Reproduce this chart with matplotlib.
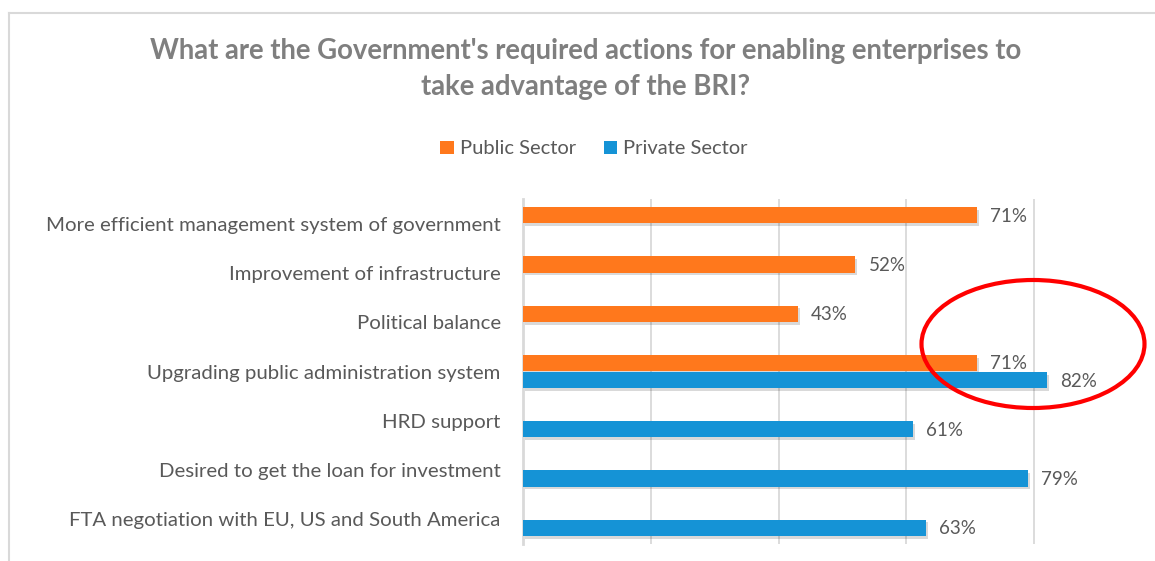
import matplotlib
matplotlib.use("Agg")
import matplotlib.pyplot as plt
import numpy as np
from matplotlib.patches import Ellipse, Patch
from matplotlib.lines import Line2D
import matplotlib.patheffects as pe

categories = [
    "More efficient management system of government",
    "Improvement of infrastructure",
    "Political balance",
    "Upgrading public administration system",
    "HRD support",
    "Desired to get the loan for investment",
    "FTA negotiation with EU, US and South America",
]
public_sector = [0.71, 0.52, 0.43, 0.71, None, None, None]
private_sector = [None, None, None, 0.82, 0.61, 0.79, 0.63]
series_names = ["Public Sector", "Private Sector"]
title = "What are the Government's required actions for enabling enterprises to\ntake advantage of the BRI?"

ORANGE = "#FF781C"
BLUE = "#1593D6"
GRID = "#D9D9D9"
TXT = "#595959"
FONT = "Lato"

W, H = 1155, 561
fig = plt.figure(figsize=(W / 100, H / 100), dpi=100)
fig.patch.set_facecolor("white")

ax = fig.add_axes([523 / W, 17.4 / H, 639 / W, 344.2 / H])
ax.set_xlim(0, 1.0)
ax.set_ylim(len(categories) - 0.5, -0.5)

y = np.arange(len(categories))
bh = 0.33
off = 0.175
shadow = [pe.SimplePatchShadow(offset=(1.5, -2), shadow_rgbFace="#000000", alpha=0.15), pe.Normal()]

for series, color, o in [(public_sector, ORANGE, -off), (private_sector, BLUE, off)]:
    idx = [i for i, v in enumerate(series) if v is not None]
    vals = [series[i] for i in idx]
    bars = ax.barh(y[idx] + o, vals, height=bh, color=color, zorder=3)
    for b in bars:
        b.set_path_effects(shadow)
    for i, v in zip(idx, vals):
        ax.text(v + 0.021, y[i] + o + 0.02, f"{round(v * 100)}%", va="center", ha="left",
                fontsize=13.5, color=TXT, family=FONT, zorder=4)

ax.set_xticks([0, 0.2, 0.4, 0.6, 0.8, 1.0])
ax.set_xticklabels([])
ax.tick_params(axis="x", length=0)
ax.grid(axis="x", color=GRID, linewidth=1.3, zorder=0)
ax.set_yticks(y)
ax.set_yticklabels(categories, fontsize=14.7, color=TXT, family=FONT)
ax.tick_params(axis="y", length=0, pad=16)
for s in ["top", "right", "bottom"]:
    ax.spines[s].set_visible(False)
ax.spines["left"].set_color(GRID)
ax.spines["left"].set_linewidth(2)

fig.text(586 / W, 1 - 69 / H, title, ha="center", va="center", fontsize=19.8,
         fontweight="bold", color="#7F7F7F", family=FONT, linespacing=1.45)

handles = [Patch(facecolor=ORANGE, edgecolor="none"), Patch(facecolor=BLUE, edgecolor="none")]
leg = fig.legend(handles, series_names, loc="center", bbox_to_anchor=(594 / W, 1 - 149 / H),
                 ncol=2, frameon=False, handlelength=0.65, handleheight=0.65,
                 handletextpad=0.3, columnspacing=1.4,
                 prop={"family": FONT, "size": 14.5})
for t in leg.get_texts():
    t.set_color(TXT)

# chart border (left and top)
fig.add_artist(Line2D([9 / W, 9 / W], [0, 1 - 13 / H], color=GRID, lw=1.5))
fig.add_artist(Line2D([9 / W, 1], [1 - 13 / H, 1 - 13 / H], color=GRID, lw=1.5))

# red annotation ellipse
fig.add_artist(Ellipse((1033 / 100, (H - 344) / 100), 223 / 100, 128 / 100,
                       transform=fig.dpi_scale_trans, fill=False, edgecolor="#FF0000", lw=3, zorder=10))

fig.savefig("out.png", dpi=100, facecolor="white")
